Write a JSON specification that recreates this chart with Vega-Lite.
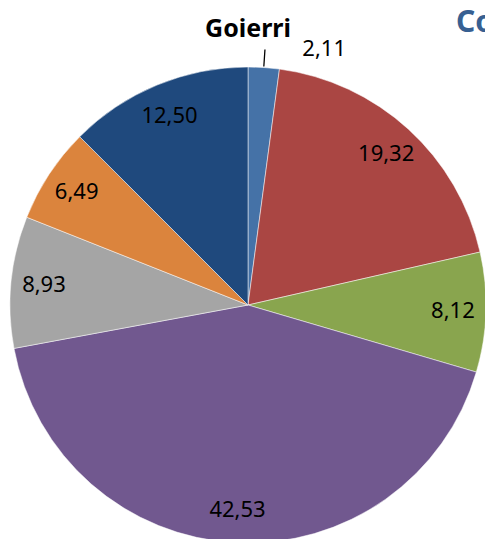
{
  "$schema": "https://vega.github.io/schema/vega-lite/v6.json",
  "padding": {"top": 8, "left": 0, "right": 0, "bottom": 0},
  "background": "white",
  "title": {"text": "Co", "anchor": "start", "frame": "group", "dx": 456, "offset": -21, "fontSize": 30, "font": "Noto Sans", "fontWeight": "bold", "color": "#376092"},
  "data": {"values": [
    {"comarca": "Goierri", "category": "A", "value": 2.11, "order": 1},
    {"comarca": "Goierri", "category": "B", "value": 19.32, "order": 2},
    {"comarca": "Goierri", "category": "C", "value": 8.12, "order": 3},
    {"comarca": "Goierri", "category": "D", "value": 42.53, "order": 4},
    {"comarca": "Goierri", "category": "E", "value": 8.93, "order": 5},
    {"comarca": "Goierri", "category": "F", "value": 6.49, "order": 6},
    {"comarca": "Goierri", "category": "G", "value": 12.50, "order": 7}
  ]},
  "spacing": 0,
  "facet": {"column": {"field": "comarca", "type": "nominal", "title": null,
    "header": {"labelFontSize": 25, "labelFont": "Noto Sans", "labelFontWeight": "bold", "labelColor": "black", "labelPadding": -4,
      "labelExpr": "'\u2002\u2002' + datum.value"}}},
  "spec": {
    "width": 496,
    "height": 534,
    "layer": [
      {
        "mark": {"type": "arc", "outerRadius": 238, "stroke": "#ffffff", "strokeWidth": 0.5},
        "encoding": {
          "theta": {"field": "value", "type": "quantitative", "stack": true},
          "order": {"field": "order", "type": "quantitative"},
          "color": {"field": "category", "type": "nominal", "legend": null,
            "scale": {"domain": ["A", "B", "C", "D", "E", "F", "G"],
              "range": ["#4572A7", "#AA4643", "#89A54E", "#71588F", "#A5A5A5", "#DB843D", "#1F497D"]}}
        }
      },
      {
        "mark": {"type": "text", "radius": 205, "font": "Noto Sans", "fontSize": 22, "color": "black"},
        "encoding": {
          "theta": {"field": "value", "type": "quantitative", "stack": true},
          "order": {"field": "order", "type": "quantitative"},
          "text": {"field": "value", "type": "quantitative", "format": ".2f", "condition": {"test": "datum.value < 3", "value": ""}}
        }
      },
      {
        "transform": [
          {"stack": "value", "groupby": [], "sort": [{"field": "order"}], "as": ["v0", "v1"]},
          {"filter": "datum.value < 3"}
        ],
        "layer": [
          {
            "mark": {"type": "arc", "innerRadius": 239, "outerRadius": 256, "padAngle": 0.4, "stroke": "black", "strokeWidth": 1.3, "fill": null, "filled": false},
            "encoding": {
              "theta": {"field": "v0", "type": "quantitative"},
              "theta2": {"field": "v1"}
            }
          },
          {
            "mark": {"type": "text", "radius": 260, "dx": 20, "dy": 2, "align": "left", "font": "Noto Sans", "fontSize": 22, "color": "black"},
            "encoding": {
              "theta": {"field": "v1", "type": "quantitative"},
              "text": {"field": "value", "type": "quantitative", "format": ".2f"}
            }
          }
        ]
      }
    ]
  },
  "config": {
    "view": {"stroke": null},
    "locale": {"number": {"decimal": ",", "thousands": ".", "grouping": [3], "currency": ["", " €"]}}
  }
}
